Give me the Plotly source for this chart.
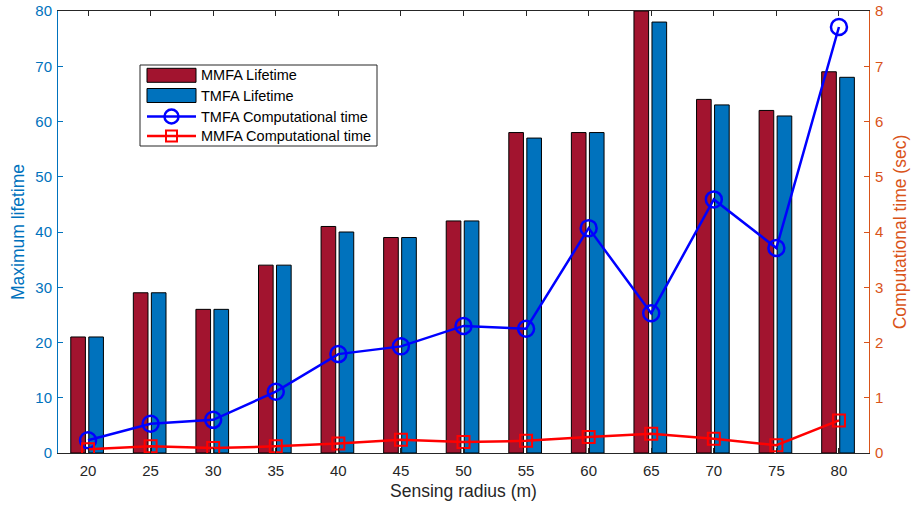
import plotly.graph_objects as go

radius = [20, 25, 30, 35, 40, 45, 50, 55, 60, 65, 70, 75, 80]
mmfa_life = [21, 29, 26, 34, 41, 39, 42, 58, 58, 80, 64, 62, 69]
tmfa_life = [21, 29, 26, 34, 40, 39, 42, 57, 58, 78, 63, 61, 68]
tmfa_time = [0.23, 0.53, 0.60, 1.11, 1.79, 1.93, 2.30, 2.25, 4.07, 2.53, 4.59, 3.71, 7.71]
mmfa_time = [0.07, 0.12, 0.09, 0.12, 0.17, 0.24, 0.20, 0.22, 0.29, 0.35, 0.26, 0.14, 0.59]
legend_names = ["MMFA Lifetime", "TMFA Lifetime", "TMFA Computational time", "MMFA Computational time"]

BLUE = "#0072BD"
ORANGE = "#D95319"
DARKRED = "#A2142F"
GRAY = "#262626"
FONT = "Liberation Sans, Arial, sans-serif"

W, H = 917, 509
ML, MR, MT, MB = 58, 48, 11, 56
PW, PH = W - ML - MR, H - MT - MB


def px(x):
    return (x - ML) / PW


def py(y):
    return 1 - (y - MT) / PH


fig = go.Figure()
fig.add_trace(go.Bar(x=radius, y=mmfa_life, name=legend_names[0], marker=dict(color=DARKRED, line=dict(color="black", width=1)),
                     width=1.17, offset=-1.38, yaxis="y"))
fig.add_trace(go.Bar(x=radius, y=tmfa_life, name=legend_names[1], marker=dict(color=BLUE, line=dict(color="black", width=1)),
                     width=1.17, offset=0.06, yaxis="y"))
fig.add_trace(go.Scatter(x=radius, y=tmfa_time, name=legend_names[2], yaxis="y2", mode="lines+markers",
                         line=dict(color="#0000FF", width=2.5),
                         marker=dict(symbol="circle-open", size=16, color="#0000FF", line=dict(width=2.5))))
fig.add_trace(go.Scatter(x=radius, y=mmfa_time, name=legend_names[3], yaxis="y2", mode="lines+markers",
                         line=dict(color="#FF0000", width=2.5),
                         marker=dict(symbol="square-open", size=12, color="#FF0000", line=dict(width=2))))

# custom legend (MATLAB style)
shapes = []
annotations = []
shapes.append(dict(type="rect", xref="paper", yref="paper", x0=px(140), x1=px(377), y0=py(146), y1=py(65),
                   line=dict(color=GRAY, width=1), fillcolor="white", layer="above"))
rows = [75.3, 95.5, 116.5, 136]
sx0, sx1, sxc = 147, 196, 171.5
shapes.append(dict(type="rect", xref="paper", yref="paper", x0=px(sx0), x1=px(sx1), y0=py(rows[0] + 7), y1=py(rows[0] - 7),
                   line=dict(color="black", width=1), fillcolor=DARKRED, layer="above"))
shapes.append(dict(type="rect", xref="paper", yref="paper", x0=px(sx0), x1=px(sx1), y0=py(rows[1] + 7), y1=py(rows[1] - 7),
                   line=dict(color="black", width=1), fillcolor=BLUE, layer="above"))
shapes.append(dict(type="line", xref="paper", yref="paper", x0=px(sx0), x1=px(sx1), y0=py(rows[2]), y1=py(rows[2]),
                   line=dict(color="#0000FF", width=2.5), layer="above"))
shapes.append(dict(type="circle", xref="paper", yref="paper", x0=px(sxc - 7), x1=px(sxc + 7), y0=py(rows[2] + 7), y1=py(rows[2] - 7),
                   line=dict(color="#0000FF", width=2.5), fillcolor="rgba(0,0,0,0)", layer="above"))
shapes.append(dict(type="line", xref="paper", yref="paper", x0=px(sx0), x1=px(sx1), y0=py(rows[3]), y1=py(rows[3]),
                   line=dict(color="#FF0000", width=2.5), layer="above"))
shapes.append(dict(type="rect", xref="paper", yref="paper", x0=px(sxc - 5.5), x1=px(sxc + 5.5), y0=py(rows[3] + 5.5), y1=py(rows[3] - 5.5),
                   line=dict(color="#FF0000", width=2), fillcolor="rgba(0,0,0,0)", layer="above"))
for name, ry in zip(legend_names, rows):
    annotations.append(dict(xref="paper", yref="paper", x=px(199), y=py(ry), text=name, showarrow=False,
                            xanchor="left", yanchor="middle", font=dict(family=FONT, size=14.5, color="black")))

fig.update_layout(
    width=W, height=H,
    margin=dict(l=ML, r=MR, t=MT, b=MB, autoexpand=False),
    paper_bgcolor="white", plot_bgcolor="white",
    barmode="overlay",
    font=dict(family=FONT, size=15, color=GRAY),
    showlegend=False,
    shapes=shapes, annotations=annotations,
    xaxis=dict(range=[17.6, 82.4], tickvals=radius, ticktext=[str(r) for r in radius], automargin=False,
               showgrid=False, zeroline=False, showline=True, linecolor=GRAY, linewidth=1,
               mirror="ticks", ticks="inside", ticklen=5, tickcolor=GRAY,
               tickfont=dict(size=15, color=GRAY), ticklabelstandoff=4,
               title=dict(text="Sensing radius (m)", font=dict(size=17.5, color=GRAY), standoff=6)),
    yaxis=dict(range=[0, 80], tickvals=list(range(0, 81, 10)), showgrid=False, zeroline=False, automargin=False,
               showline=True, linecolor=BLUE, linewidth=1, ticks="inside", ticklen=5, tickcolor=BLUE,
               tickfont=dict(size=15, color=BLUE), ticklabelstandoff=2,
               title=dict(text="Maximum lifetime", font=dict(size=17.5, color=BLUE), standoff=6)),
    yaxis2=dict(range=[0, 8], tickvals=list(range(0, 9)), overlaying="y", side="right", showgrid=False,
                zeroline=False, showline=True, linecolor=ORANGE, linewidth=1, ticks="inside", ticklen=5, automargin=False,
                tickcolor=ORANGE, tickfont=dict(size=15, color=ORANGE), ticklabelstandoff=2,
                title=dict(text="Computational time (sec)", font=dict(size=17.5, color=ORANGE), standoff=11)),
)

fig.write_html("out.html")
